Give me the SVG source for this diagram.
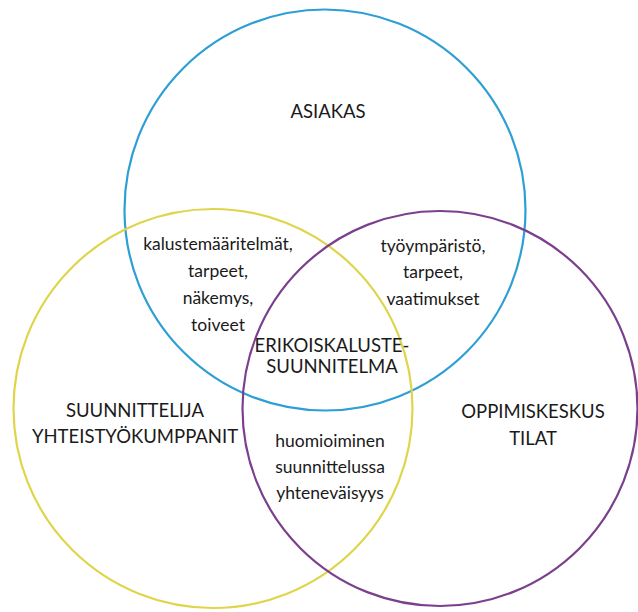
<svg xmlns="http://www.w3.org/2000/svg" width="638" height="612" viewBox="0 0 638 612">
<style>
.c{fill:none;stroke-width:2.2}
.t{font-family:Lato,"Open Sans","Liberation Sans",sans-serif;font-size:17.5px;fill:#1a1a1a;text-anchor:middle}
.u{font-size:18.5px}
</style>
<rect width="638" height="612" fill="#fff"/>
<g id="connectors"/>
<g id="asiakas">
<circle class="c" cx="325" cy="210" r="200.5" stroke="#2d9fd5"/>
<text class="t u" x="328" y="118">ASIAKAS</text>
</g>
<g id="suunnittelija">
<circle class="c" cx="213" cy="408.5" r="199.5" stroke="#dfd54b"/>
<text class="t u" x="135" y="417">SUUNNITTELIJA</text>
<text class="t u" x="135" y="443">YHTEISTYÖKUMPPANIT</text>
</g>
<g id="oppimiskeskus">
<circle class="c" cx="440" cy="408.5" r="197.5" stroke="#7b3f8e"/>
<text class="t u" x="533" y="418">OPPIMISKESKUS</text>
<text class="t u" x="533" y="445">TILAT</text>
</g>
<g id="asiakas-suunnittelija">
<text class="t" x="218" y="250">kalustemääritelmät,</text>
<text class="t" x="218" y="277">tarpeet,</text>
<text class="t" x="218" y="304">näkemys,</text>
<text class="t" x="218" y="331">toiveet</text>
</g>
<g id="asiakas-oppimiskeskus">
<text class="t" x="433" y="252">työympäristö,</text>
<text class="t" x="433" y="278">tarpeet,</text>
<text class="t" x="433" y="305">vaatimukset</text>
</g>
<g id="erikoiskalustesuunnitelma">
<text class="t u" x="332" y="352">ERIKOISKALUSTE-</text>
<text class="t u" x="332" y="373">SUUNNITELMA</text>
</g>
<g id="suunnittelija-oppimiskeskus">
<text class="t" x="330" y="447">huomioiminen</text>
<text class="t" x="330" y="473">suunnittelussa</text>
<text class="t" x="330" y="499">yhteneväisyys</text>
</g>
</svg>
